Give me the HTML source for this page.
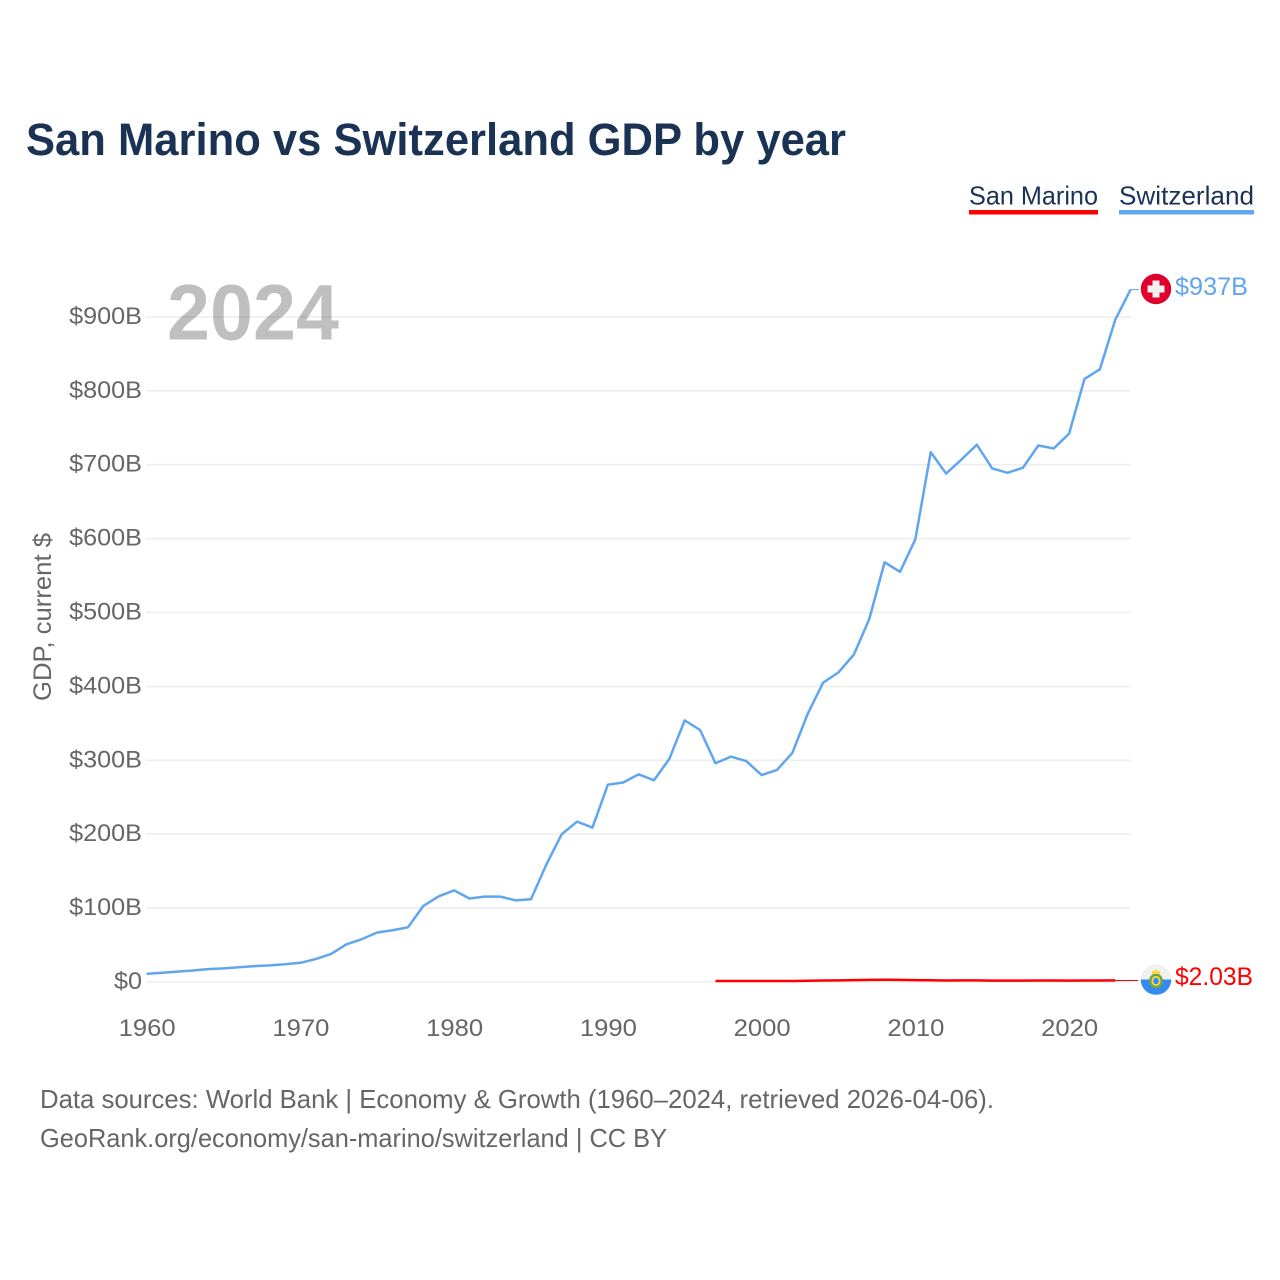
<!DOCTYPE html>
<html lang="en">
<head>
<meta charset="utf-8">
<title>San Marino vs Switzerland GDP by year</title>
<style>
  html, body { margin: 0; padding: 0; background: #fff; }
  svg { display: block; font-family: "Liberation Sans", sans-serif; }
  .tick { fill: #666; font-size: 24px; }
</style>
</head>
<body>
<svg id="chart" width="1280" height="1280" viewBox="0 0 1280 1280" xmlns="http://www.w3.org/2000/svg">
  <rect width="1280" height="1280" fill="#fff"/>
  <text x="26" y="155" font-size="45" font-weight="700" fill="#1a3355" textLength="820" lengthAdjust="spacingAndGlyphs">San Marino vs Switzerland GDP by year</text>

  <g>
    <text x="969" y="204.5" font-size="26" fill="#1a3355" textLength="129" lengthAdjust="spacingAndGlyphs">San Marino</text>
    <rect x="969" y="210" width="129" height="4.5" fill="#ff0000"/>
  </g>
  <g>
    <text x="1119" y="204.5" font-size="26" fill="#1a3355" textLength="135" lengthAdjust="spacingAndGlyphs">Switzerland</text>
    <rect x="1119" y="210" width="135" height="4.5" fill="#60a5ef"/>
  </g>

  <text transform="translate(51,617) rotate(-90)" text-anchor="middle" font-size="25" fill="#666" textLength="168" lengthAdjust="spacingAndGlyphs">GDP, current $</text>

  <g id="grid"></g>
  <g id="y-ticks"></g>
  <g id="x-ticks"></g>

  <text x="167" y="339.5" font-size="79" font-weight="700" fill="#000" fill-opacity="0.25" textLength="172" lengthAdjust="spacingAndGlyphs">2024</text>

  <g id="series"></g>

  <g>
    <circle cx="1156" cy="289" r="15.2" fill="#e0002b"/>
    <rect x="1147.5" y="285.5" width="17" height="7" fill="#f0f0f0"/>
    <rect x="1152.5" y="280.5" width="7" height="17" fill="#f0f0f0"/>
  </g>
  <g>
    <circle cx="1156" cy="979.5" r="15.3" fill="#f0f0f0"/>
    <path d="M1140.7 979.5 H1171.3 A15.3 15.3 0 0 1 1140.7 979.5 Z" fill="#338af3"/>
    <ellipse cx="1156" cy="981" rx="7" ry="7.5" fill="#6da544"/>
    <ellipse cx="1156" cy="981" rx="4.5" ry="5" fill="#ffda44"/>
    <ellipse cx="1156" cy="981" rx="2.8" ry="3.2" fill="#338af3"/>
    <path d="M1151.5 974 L1152.5 970.5 L1154.5 971.5 L1156 968.5 L1157.5 971.5 L1159.5 970.5 L1160.5 974 Z" fill="#ffda44"/>
  </g>

  <text x="1175" y="295" font-size="25" fill="#60a5ef" textLength="73" lengthAdjust="spacingAndGlyphs">$937B</text>
  <text x="1175" y="985" font-size="25" fill="#ff0000" textLength="78" lengthAdjust="spacingAndGlyphs">$2.03B</text>

  <text x="40" y="1108" font-size="26" fill="#666" textLength="954" lengthAdjust="spacingAndGlyphs">Data sources: World Bank | Economy &amp; Growth (1960–2024, retrieved 2026-04-06).</text>
  <text x="40" y="1147" font-size="26" fill="#666" textLength="627" lengthAdjust="spacingAndGlyphs">GeoRank.org/economy/san-marino/switzerland | CC BY</text>
</svg>

<script>
const yTickValues = [0, 100, 200, 300, 400, 500, 600, 700, 800, 900];
const yTickLabels = ["$0", "$100B", "$200B", "$300B", "$400B", "$500B", "$600B", "$700B", "$800B", "$900B"];
const xTickValues = [1960, 1970, 1980, 1990, 2000, 2010, 2020];
const xTickLabels = ["1960", "1970", "1980", "1990", "2000", "2010", "2020"];

const switzerlandStartYear = 1960;
const switzerlandGdp = [
  11, 12.5, 14, 15.5, 17.5, 18.5, 20, 21.5, 22.5, 24,
  26, 31, 38, 51, 58, 67, 70, 74, 103, 116,
  124, 113, 115.5, 115.5, 110.5, 112, 159, 200, 217, 209,
  267, 270, 281, 273, 302, 354, 341, 296, 305, 299,
  280, 287, 310, 363, 405, 419, 443, 491, 568, 555,
  599, 717, 688, 707, 727, 695, 689, 696, 726, 722,
  742, 816, 829, 896, 937
];
const sanMarinoStartYear = 1997;
const sanMarinoGdp = [
  1.3, 1.3, 1.4, 1.3, 1.3, 1.4, 1.7, 2.1, 2.2, 2.5,
  2.8, 3.1, 2.8, 2.6, 2.3, 2.1, 2.2, 2.2, 1.8, 1.8,
  1.9, 2.0, 2.0, 1.9, 2.1, 2.0, 2.2
];
const switzerlandEndValue = 937;
const sanMarinoEndValue = 2.03;

const SVG_NS = 'http://www.w3.org/2000/svg';
const xScale = function (year) { return 146.6 + (year - 1960) * 15.375; };
const yScale = function (value) { return 982 - value * 0.739; };

function make(tag, attrs, parent) {
  const el = document.createElementNS(SVG_NS, tag);
  Object.keys(attrs).forEach(function (k) { el.setAttribute(k, attrs[k]); });
  parent.appendChild(el);
  return el;
}

const grid = document.getElementById('grid');
const yTicks = document.getElementById('y-ticks');
const xTicks = document.getElementById('x-ticks');
const series = document.getElementById('series');

yTickValues.forEach(function (value, i) {
  const line = make('line', { x1: 146, x2: 1131, y1: yScale(value), y2: yScale(value), stroke: '#eeeeee', 'stroke-width': 1.6 }, grid);
  
  
  const label = make('text', { x: 142, y: yScale(value) + 7, 'text-anchor': 'end', class: 'tick', 'lengthAdjust': 'spacingAndGlyphs' }, yTicks);
  
  
  label.textContent = yTickLabels[i];
  label.setAttribute('textLength', label.getComputedTextLength() * 1.05);
});

xTickValues.forEach(function (year, i) {
  const label = make('text', { x: xScale(year) + 0.5, y: 1036, 'text-anchor': 'middle', class: 'tick', 'lengthAdjust': 'spacingAndGlyphs' }, xTicks);
  
  
  label.textContent = xTickLabels[i];
  label.setAttribute('textLength', 57);
});

function linePoints(values, startYear) {
  return values.map(function (v, i) {
    return xScale(startYear + i).toFixed(2) + ',' + yScale(v).toFixed(2);
  }).join(' ');
}

const swissLine = make('polyline', { points: linePoints(switzerlandGdp, switzerlandStartYear), fill: 'none', stroke: '#60a5ef', 'stroke-width': 2.5, 'stroke-linejoin': 'round' }, series);



const sanLine = make('polyline', { points: linePoints(sanMarinoGdp, sanMarinoStartYear), fill: 'none', stroke: '#ff0000', 'stroke-width': 2.5, 'stroke-linejoin': 'round' }, series);



const swissEndX = xScale(switzerlandStartYear + switzerlandGdp.length - 1);
const swissLeader = make('line', { x1: swissEndX, x2: 1139, y1: yScale(switzerlandEndValue), y2: yScale(switzerlandEndValue), stroke: '#60a5ef', 'stroke-width': 1 }, series);



const sanEndX = xScale(sanMarinoStartYear + sanMarinoGdp.length - 1);
const sanLeader = make('line', { x1: sanEndX, x2: 1138, y1: yScale(sanMarinoEndValue), y2: yScale(sanMarinoEndValue), stroke: '#ff0000', 'stroke-width': 1 }, series);


</script>
</body>
</html>
